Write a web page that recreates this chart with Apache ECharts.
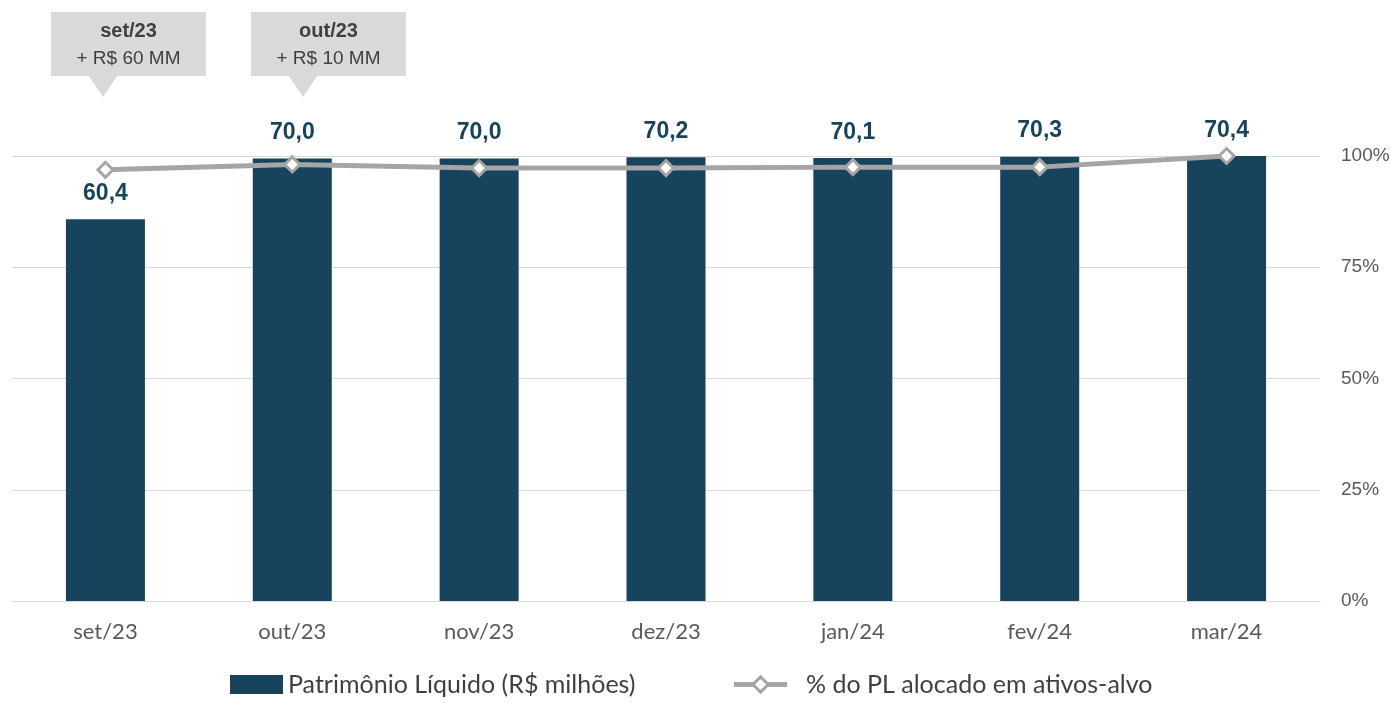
<!DOCTYPE html>
<html><head><meta charset="utf-8">
<script src="https://cdn.jsdelivr.net/npm/echarts@6/dist/echarts.min.js"></script>
<style>html,body{margin:0;padding:0;background:#fff}#c{width:1391px;height:704px}</style>
</head><body><div id="c"></div>
<script>
const categories = ['set/23','out/23','nov/23','dez/23','jan/24','fev/24','mar/24'];
const plValues = [60.4, 70.0, 70.0, 70.2, 70.1, 70.3, 70.4];
const pctValues = [96.9, 98.1, 97.3, 97.3, 97.5, 97.5, 100];
const pctTicks = [0, 25, 50, 75, 100];
const callouts = [
  {title: 'set/23', text: '+ R$ 60 MM'},
  {title: 'out/23', text: '+ R$ 10 MM'}
];
const barName = 'Patrimônio Líquido (R$ milhões)';
const lineName = '% do PL alocado em ativos-alvo';

const chart = echarts.init(document.getElementById('c'));
const narrow = '"Liberation Sans Narrow", "Arial Narrow", "Liberation Sans", sans-serif';

function calloutGraphic(i, left) {
  const c = callouts[i];
  return {
    type: 'group', left: left, top: 12,
    children: [
      {type: 'rect', shape: {x: 0, y: 0, width: 155, height: 64}, style: {fill: '#D9D9D9'}},
      {type: 'polygon', shape: {points: [[38, 64], [66, 64], [52, 85]]}, style: {fill: '#D9D9D9'}},
      {type: 'text', x: 77.5, y: 9, style: {text: c.title, font: 'bold 20px ' + narrow, fill: '#404040', textAlign: 'center'}},
      {type: 'text', x: 77.5, y: 37, style: {text: c.text, font: '19px ' + narrow, fill: '#404040', textAlign: 'center'}}
    ]
  };
}

chart.setOption({
  animation: false,
  grid: {left: 12, right: 71, top: 156, bottom: 103, containLabel: false, outerBoundsMode: 'none'},
  legend: {
    bottom: 2, left: 225, itemGap: 96, itemWidth: 53, itemHeight: 19,
    textStyle: {fontFamily: 'Lato', fontSize: 25, color: '#404040'},
    data: [
      {name: barName, icon: 'rect'},
      {name: lineName, itemStyle: {color: '#FFFFFF', borderColor: '#A5A5A5', borderWidth: 3},
       lineStyle: {color: '#A5A5A5', width: 5}, textStyle: {padding: [0, 0, 0, 14]}}
    ]
  },
  xAxis: {
    type: 'category', data: categories,
    axisTick: {show: false},
    axisLine: {lineStyle: {color: '#D9D9D9', width: 1}},
    axisLabel: {fontFamily: 'Lato', fontSize: 22, color: '#595959', margin: 20}
  },
  yAxis: [
    {type: 'value', min: 0, max: 70.4, show: false, splitLine: {show: false}},
    {type: 'value', min: 0, max: 100, interval: 25, position: 'right',
     axisLine: {show: false}, axisTick: {show: false},
     splitLine: {lineStyle: {color: '#D9D9D9', width: 1}},
     axisLabel: {formatter: v => pctTicks.includes(v) ? v + '%' : '', fontFamily: narrow, fontSize: 19, color: '#595959', margin: 21, align: 'left'}}
  ],
  series: [
    {name: barName, type: 'bar', data: plValues, yAxisIndex: 0, barWidth: 79,
     itemStyle: {color: '#17445C'},
     label: {show: true, position: 'top', distance: 14, formatter: p => p.value.toFixed(1).replace('.', ','),
             fontFamily: narrow, fontWeight: 'bold', fontSize: 23, color: '#17445C'}},
    {name: lineName, type: 'line', data: pctValues, yAxisIndex: 1,
     lineStyle: {color: '#A5A5A5', width: 5},
     itemStyle: {color: '#FFFFFF', borderColor: '#A5A5A5', borderWidth: 3},
     symbol: 'diamond', symbolSize: 15, showAllSymbol: true}
  ],
  graphic: [calloutGraphic(0, 51), calloutGraphic(1, 251)]
});
</script></body></html>
